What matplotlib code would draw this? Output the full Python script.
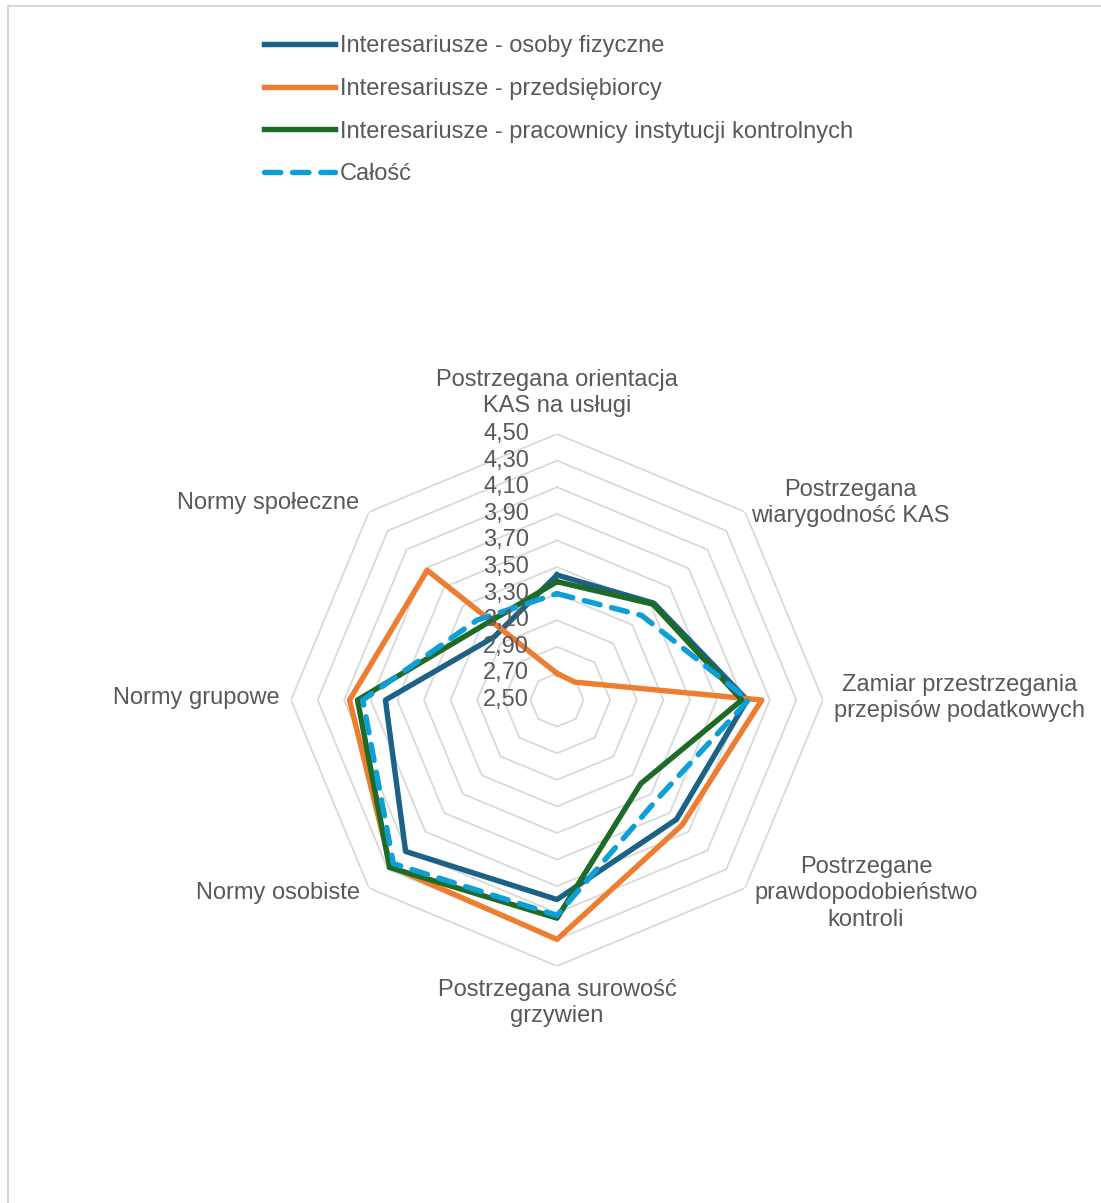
import numpy as np
import matplotlib
matplotlib.use("Agg")
import matplotlib.pyplot as plt
from matplotlib.patches import Rectangle

plt.rcParams['font.family'] = ['Liberation Sans', 'DejaVu Sans']

# categories, clockwise from the top
categories = [
    "Postrzegana orientacja\nKAS na usługi",
    "Postrzegana\nwiarygodność KAS",
    "Zamiar przestrzegania\nprzepisów podatkowych",
    "Postrzegane\nprawdopodobieństwo\nkontroli",
    "Postrzegana surowość\ngrzywien",
    "Normy osobiste",
    "Normy grupowe",
    "Normy społeczne",
]
osoby_fizyczne = [3.44, 3.53, 3.93, 3.77, 4.00, 4.11, 3.79, 3.17]
przedsiebiorcy = [2.70, 2.69, 4.04, 3.83, 4.30, 4.27, 4.06, 3.88]
pracownicy = [3.39, 3.52, 3.89, 3.39, 4.14, 4.28, 4.00, 3.29]
calosc = [3.30, 3.40, 3.94, 3.56, 4.12, 4.24, 3.96, 3.35]
series_names = [
    "Interesariusze - osoby fizyczne",
    "Interesariusze - przedsiębiorcy",
    "Interesariusze - pracownicy instytucji kontrolnych",
    "Całość",
]
ring_levels = [2.70, 2.90, 3.10, 3.30, 3.50, 3.70, 3.90, 4.10, 4.30, 4.50]
tick_levels = [2.50] + ring_levels

text_col = '#595959'
grid_col = '#D9D9D9'
fs = 17
lw = 3.9

fig = plt.figure(figsize=(11.01, 12.03), dpi=100)
fig.patches.append(Rectangle((7.5 / 1101, -0.1), 1.2, 1 - 5.5 / 1203 + 0.1,
                             transform=fig.transFigure, fill=False,
                             edgecolor=grid_col, lw=1.5))

ax = fig.add_axes([0.2643, 0.1970, 0.4832, 0.4422], projection='polar')
ax.set_theta_zero_location('N')
ax.set_theta_direction(-1)
ax.set_ylim(2.5, 4.5)
ax.grid(False)
ax.set_xticks([])
ax.set_yticks([])
ax.spines['polar'].set_visible(False)
ax.patch.set_alpha(0)

n = len(categories)
theta = np.linspace(0, 2 * np.pi, n, endpoint=False)
theta_c = np.append(theta, theta[0])

# octagonal grid rings
for lv in ring_levels:
    ax.plot(theta_c, [lv] * (n + 1), color=grid_col, lw=1.3, zorder=1)

def closed(v):
    return list(v) + [v[0]]

ax.plot(theta_c, closed(osoby_fizyczne), color='#1C6186', lw=lw,
        label=series_names[0], zorder=3)
ax.plot(theta_c, closed(przedsiebiorcy), color='#ED7D31', lw=lw,
        label=series_names[1], zorder=3)
ax.plot(theta_c, closed(pracownicy), color='#1E6B27', lw=lw,
        label=series_names[2], zorder=3)
ax.plot(theta_c, closed(calosc), color='#0E9FD8', lw=lw, ls=(0, (3, 2.2)),
        dash_capstyle='round', label=series_names[3], zorder=4)

# value labels along the top axis
for lv in tick_levels:
    ax.annotate(f"{lv:.2f}".replace('.', ','), xy=(0, lv), xytext=(-28, 0),
                textcoords='offset pixels', ha='right', va='center',
                fontsize=fs, color=text_col, annotation_clip=False, zorder=5)

# category labels around the outer ring
offsets = [(0, 41), (105, 9), (137, 2), (121, -5),
           (0, -37), (-91, -5), (-95, 2), (-101, 9)]
for t, lab, off in zip(theta, categories, offsets):
    ax.annotate(lab, xy=(t, 4.5), xytext=off, textcoords='offset pixels',
                ha='center', va='center', multialignment='center',
                fontsize=fs, color=text_col, linespacing=1.27,
                annotation_clip=False)

leg = fig.legend(loc='upper left', bbox_to_anchor=(264 / 1101, 1 - 35 / 1203),
                 frameon=False, fontsize=fs, handlelength=3.0,
                 handletextpad=0.2, labelspacing=0.88, borderpad=0,
                 borderaxespad=0)
for txt in leg.get_texts():
    txt.set_color(text_col)

fig.savefig("out.png", dpi=100)
